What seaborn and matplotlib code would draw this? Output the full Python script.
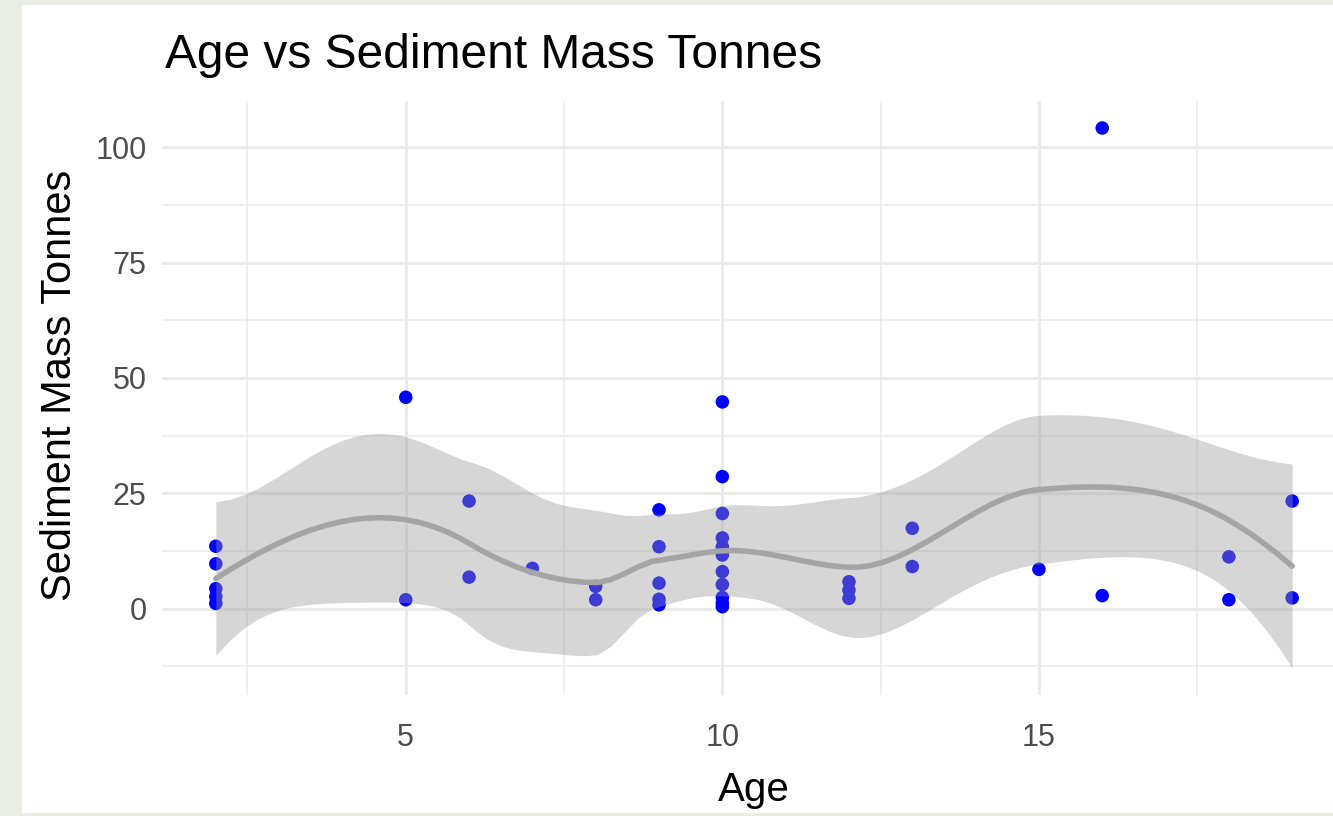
import numpy as np
import pandas as pd
import matplotlib
matplotlib.use("Agg")
import matplotlib.pyplot as plt
import seaborn as sns
from matplotlib.patches import Rectangle
from matplotlib.ticker import MultipleLocator

# values
age = [2, 2, 2, 2, 2,
       5, 5,
       6, 6,
       7,
       8, 8,
       9, 9, 9, 9, 9,
       10, 10, 10, 10, 10, 10, 10, 10, 10, 10, 10,
       12, 12, 12,
       13, 13,
       15,
       16, 16,
       18, 18,
       19, 19]
mass = [13.5, 9.7, 4.3, 2.6, 1.1,
        45.8, 1.9,
        23.3, 6.8,
        8.7,
        4.8, 1.9,
        21.4, 13.4, 5.5, 2.0, 0.8,
        44.8, 28.6, 20.6, 15.3, 13.4, 11.6, 8.0, 5.2, 2.4, 1.2, 0.4,
        5.8, 4.0, 2.2,
        17.4, 9.1,
        8.5,
        104.2, 2.8,
        11.2, 1.9,
        23.3, 2.3]
span = 0.65

df = pd.DataFrame({"Age": age, "Mass": mass})


# loess (degree 2) in the way R does it: exact fits at kd-tree
# vertices, cubic Hermite interpolation in between
def local_rows(x, v, span):
    n = len(x)
    q = int(np.floor(n * span))
    d = np.abs(x - v)
    h = np.sort(d)[q - 1]
    u = np.clip(d / h, 0, 1)
    w = (1 - u ** 3) ** 3
    X = np.column_stack([np.ones(n), x - v, (x - v) ** 2])
    XtW = X.T * w
    B = np.linalg.lstsq(XtW @ X, XtW, rcond=None)[0]
    return B[0], B[1]


def kd_vertices(x, span):
    xs = np.sort(x)
    n = len(xs)
    fc = int(np.floor(n * span * 0.2))
    mu = 0.005 * (xs[-1] - xs[0])
    verts = {xs[0] - mu, xs[-1] + mu}
    cells = [(0, n - 1, xs[0] - mu, xs[-1] + mu)]
    while cells:
        l, u, v0, v1 = cells.pop()
        if u - l + 1 <= fc:
            continue
        m = (l + u) // 2
        off = 0
        while l <= m + off < u:
            if xs[m + off] != xs[m + off + 1]:
                m = m + off
                break
            off = -off
            if off >= 0:
                off += 1
        xi = xs[m]
        if xi == v0 or xi == v1:
            continue
        verts.add(xi)
        cells.append((l, m, v0, xi))
        cells.append((m + 1, u, xi, v1))
    return np.array(sorted(verts))


def loess_operator(x, x0, span):
    vt = kd_vertices(x, span)
    val = []
    slo = []
    for v in vt:
        a, b = local_rows(x, v, span)
        val.append(a)
        slo.append(b)
    val = np.array(val)
    slo = np.array(slo)
    rows = []
    for p in x0:
        i = np.clip(np.searchsorted(vt, p, side="right") - 1, 0, len(vt) - 2)
        h = vt[i + 1] - vt[i]
        t = (p - vt[i]) / h
        phi0 = (1 - t) ** 2 * (1 + 2 * t)
        phi1 = t ** 2 * (3 - 2 * t)
        psi0 = t * (1 - t) ** 2
        psi1 = -t ** 2 * (1 - t)
        rows.append(phi0 * val[i] + phi1 * val[i + 1]
                    + (psi0 * slo[i] + psi1 * slo[i + 1]) * h)
    return np.array(rows)


x = df["Age"].to_numpy(float)
y = df["Mass"].to_numpy(float)
grid = np.linspace(x.min(), x.max(), 80)

L = loess_operator(x, x, span)
M = np.eye(len(x)) - L
R = M.T @ M
d1 = np.trace(R)
d2 = np.trace(R @ R)
s = np.sqrt(np.sum((y - L @ y) ** 2) / d1)
dof = d1 ** 2 / d2
z = 1.959964
tq = (z + (z**3 + z) / 4 / dof + (5*z**5 + 16*z**3 + 3*z) / 96 / dof**2
      + (3*z**7 + 19*z**5 + 17*z**3 - 15*z) / 384 / dof**3)

Lg = loess_operator(x, grid, span)
fit = Lg @ y
se = s * np.sqrt(np.sum(Lg ** 2, axis=1))
lo = fit - tq * se
hi = fit + tq * se

# figure
W, H = 1333, 816
fig = plt.figure(figsize=(W / 100, H / 100), dpi=100, facecolor="#e8eee4")
fig.patches.append(Rectangle((22 / W, 3 / H), 1, 1 - 8 / H, transform=fig.transFigure,
                             facecolor="white", edgecolor="none", zorder=-5))

sns.set_style("white")
plt.rcParams["font.family"] = ["Liberation Sans", "DejaVu Sans"]

ax = fig.add_axes([162 / W, (H - 695) / H, (1346 - 162) / W, (695 - 101) / H])
ax.set_facecolor("none")

sns.scatterplot(data=df, x="Age", y="Mass", color="#0000ff", s=95,
                edgecolor="none", ax=ax, zorder=2)
ax.fill_between(grid, lo, hi, color="#999999", alpha=0.4, linewidth=0, zorder=3)
ax.plot(grid, fit, color="#a5a5a5", linewidth=4, zorder=4)

xr = x.max() - x.min()
ax.set_xlim(x.min() - 0.05 * xr, x.max() + 0.05 * xr)
ymin = min(lo.min(), y.min())
ymax = max(hi.max(), y.max())
yr = ymax - ymin
ax.set_ylim(ymin - 0.05 * yr, ymax + 0.05 * yr)

ax.xaxis.set_major_locator(MultipleLocator(5))
ax.xaxis.set_minor_locator(MultipleLocator(2.5))
ax.yaxis.set_major_locator(MultipleLocator(25))
ax.yaxis.set_minor_locator(MultipleLocator(12.5))
ax.grid(which="major", color="#ebebeb", linewidth=2.2, zorder=0)
ax.grid(which="minor", color="#ebebeb", linewidth=1.1, zorder=0)
ax.set_axisbelow(True)
for sp in ax.spines.values():
    sp.set_visible(False)
ax.tick_params(which="both", length=0)
ax.tick_params(axis="x", labelsize=22, labelcolor="#4d4d4d", pad=20)
ax.tick_params(axis="y", labelsize=22, labelcolor="#4d4d4d", pad=11)
ax.set_xlabel("")
ax.set_ylabel("")

fig.text(165 / W, 1 - 68 / H, "Age vs Sediment Mass Tonnes", fontsize=34.5,
         color="black", ha="left", va="baseline")
fig.text(754 / W, 1 - 790 / H, "Age", fontsize=29, color="black",
         ha="center", va="center")
fig.text(60 / W, 1 - 385 / H, "Sediment Mass Tonnes", fontsize=30, color="black",
         ha="center", va="center", rotation=90)

fig.savefig("out.png", dpi=100, facecolor=fig.get_facecolor())
